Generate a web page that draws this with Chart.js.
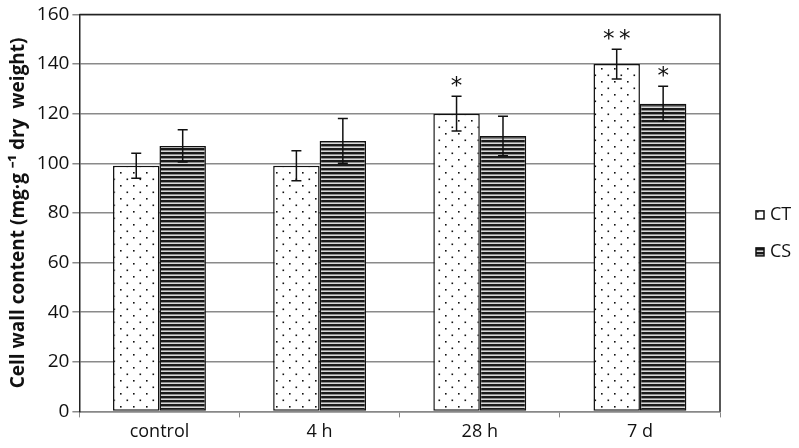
<!DOCTYPE html>
<html>
<head>
<meta charset="utf-8">
<script src="https://cdn.jsdelivr.net/npm/chart.js@4.4.1/dist/chart.umd.min.js"></script>
<style>
  html, body { margin: 0; padding: 0; background: #fff; }
  #wrap { width: 799px; height: 448px; }
</style>
</head>
<body>
<div id="wrap"><canvas id="chart" width="799" height="448"></canvas></div>
<script>
// data
var categories = ["control", "4 h", "28 h", "7 d"];
var ctValues = [99, 99, 120, 140];
var csValues = [107, 109, 111, 124];
var ctErrors = [5, 6, 7, 6];
var csErrors = [6.5, 9, 8, 7];
var ctMarks = ["", "", "*", "**"];
var csMarks = ["", "", "", "*"];

function dotPattern() {
  var c = document.createElement("canvas");
  c.width = 13; c.height = 13;
  var g = c.getContext("2d");
  g.fillStyle = "#fff";
  g.fillRect(0, 0, 13, 13);
  g.fillStyle = "#111";
  g.fillRect(3, 3, 1.6, 1.6);
  g.fillRect(9.5, 9.5, 1.6, 1.6);
  return g.createPattern(c, "repeat");
}

function stripePattern() {
  var c = document.createElement("canvas");
  c.width = 4; c.height = 4;
  var g = c.getContext("2d");
  g.fillStyle = "#d8d8d8";
  g.fillRect(0, 0, 4, 4);
  g.fillStyle = "#1a1a1a";
  g.fillRect(0, 0, 4, 2.4);
  return g.createPattern(c, "repeat");
}

var errorBars = {
  id: "errorBars",
  afterDatasetsDraw: function (chart) {
    var ctx = chart.ctx;
    var y = chart.scales.y;
    var errs = [ctErrors, csErrors];
    var marks = [ctMarks, csMarks];
    ctx.save();
    ctx.strokeStyle = "#111";
    ctx.lineWidth = 1.5;
    chart.data.datasets.forEach(function (ds, di) {
      chart.getDatasetMeta(di).data.forEach(function (bar, i) {
        var v = ds.data[i];
        var top = y.getPixelForValue(v + errs[di][i]);
        var bot = y.getPixelForValue(v - errs[di][i]);
        var x = bar.x;
        ctx.beginPath();
        ctx.moveTo(x, top); ctx.lineTo(x, bot);
        ctx.moveTo(x - 5, top); ctx.lineTo(x + 5, top);
        ctx.moveTo(x - 5, bot); ctx.lineTo(x + 5, bot);
        ctx.stroke();
        if (marks[di][i]) {
          ctx.fillStyle = "#111";
          ctx.font = "23px 'DejaVu Sans'";
          ctx.textAlign = "center";
          ctx.textBaseline = "middle";
          ctx.fillText(marks[di][i].split("").join("\u2009"), x, top - 9);
        }
      });
    });
    ctx.restore();
  }
};

// plot frame plus a hand-placed legend on the right
var frame = {
  id: "frame",
  afterDraw: function (chart) {
    var a = chart.chartArea;
    var ctx = chart.ctx;
    ctx.save();
    ctx.strokeStyle = "#222";
    ctx.lineWidth = 1.5;
    ctx.beginPath();
    ctx.moveTo(a.left, a.top);
    ctx.lineTo(a.right, a.top);
    ctx.lineTo(a.right, a.bottom);
    ctx.stroke();

    var mid = (a.top + a.bottom) / 2;
    chart.data.datasets.forEach(function (ds, i) {
      var cy = mid + 2 + i * 37;
      var bx = a.right + 36;
      ctx.fillStyle = ds.backgroundColor;
      ctx.fillRect(bx, cy - 4, 8, 8);
      ctx.strokeStyle = "#111";
      ctx.lineWidth = 1.5;
      ctx.strokeRect(bx, cy - 4, 8, 8);
      ctx.fillStyle = "#111";
      ctx.font = "18px 'Open Sans'";
      ctx.textAlign = "left";
      ctx.textBaseline = "middle";
      ctx.fillText(ds.label, bx + 14, cy);
    });
    ctx.restore();
  }
};

new Chart(document.getElementById("chart"), {
  type: "bar",
  data: {
    labels: categories,
    datasets: [
      {
        label: "CT",
        data: ctValues,
        backgroundColor: dotPattern(),
        borderColor: "#111",
        borderWidth: 1.5,
        borderSkipped: false,
        categoryPercentage: 0.58,
        barPercentage: 1.0
      },
      {
        label: "CS",
        data: csValues,
        backgroundColor: stripePattern(),
        borderColor: "#111",
        borderWidth: 1.5,
        borderSkipped: false,
        categoryPercentage: 0.58,
        barPercentage: 1.0
      }
    ]
  },
  options: {
    responsive: false,
    animation: false,
    layout: { padding: { top: 9, right: 79, bottom: 1, left: 7 } },
    plugins: {
      legend: { display: false },
      tooltip: { enabled: false }
    },
    scales: {
      x: {
        grid: {
          offset: true,
          drawOnChartArea: false,
          drawTicks: true,
          tickLength: 6,
          color: "#888"
        },
        border: { color: "#888", width: 1.5 },
        ticks: {
          color: "#111",
          padding: 4,
          font: { family: "'Open Sans'", size: 18 }
        }
      },
      y: {
        min: 0,
        max: 160,
        ticks: {
          stepSize: 20,
          color: "#111",
          padding: 3,
          font: { family: "'Open Sans'", size: 19 }
        },
        grid: { color: "#8a8a8a", lineWidth: 1.5, tickLength: 7 },
        border: { color: "#222", width: 1.5 },
        title: {
          display: true,
          text: "Cell wall content (mg·g ⁻¹ dry  weight)",
          color: "#111",
          padding: { top: 0, bottom: 4 },
          font: { family: "'Open Sans'", size: 19, weight: "bold" }
        }
      }
    }
  },
  plugins: [errorBars, frame]
});
</script>
</body>
</html>
